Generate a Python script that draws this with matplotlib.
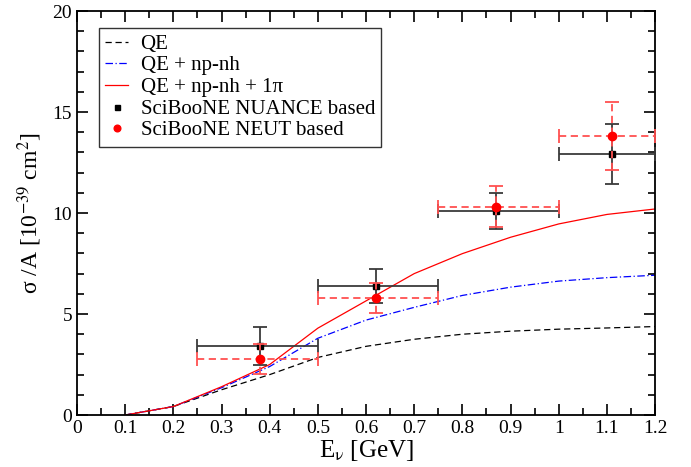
import numpy as np
import matplotlib.pyplot as plt
from matplotlib.ticker import MultipleLocator

plt.rcParams['font.family'] = ['Liberation Serif', 'DejaVu Serif']
plt.rcParams['mathtext.fontset'] = 'stix'

# theory curves
energy = [0.1, 0.2, 0.3, 0.4, 0.5, 0.6, 0.7, 0.8, 0.9, 1.0, 1.1, 1.2]
qe = [0.0, 0.42, 1.25, 2.0, 2.85, 3.4, 3.75, 4.0, 4.15, 4.25, 4.31, 4.38]
qe_npnh = [0.0, 0.42, 1.35, 2.4, 3.8, 4.7, 5.33, 5.92, 6.33, 6.63, 6.8, 6.92]
qe_npnh_pi = [0.0, 0.42, 1.4, 2.5, 4.3, 5.65, 7.0, 7.99, 8.8, 9.46, 9.93, 10.2]

# SciBooNE data
e_data = [0.38, 0.62, 0.87, 1.11]
e_lo = [0.25, 0.5, 0.75, 1.0]
e_hi = [0.5, 0.75, 1.0, 1.2]
nuance = [3.42, 6.39, 10.1, 12.92]
nuance_err = [0.95, 0.82, 0.9, 1.5]
neut = [2.77, 5.79, 10.32, 13.82]
neut_err = [0.75, 0.75, 1.0, 1.7]

fig, ax = plt.subplots(figsize=(6.91, 4.67), dpi=100)
fig.subplots_adjust(left=0.1114, right=0.948, bottom=0.1113, top=0.9764)

ax.plot(energy, qe, color='black', ls=(0, (5, 3)), lw=0.9, label='QE')
ax.plot(energy, qe_npnh, color='blue', ls=(0, (6, 2, 1, 2)), lw=0.9, label='QE + np-nh')
ax.plot(energy, qe_npnh_pi, color='red', ls='-', lw=0.9, label='QE + np-nh + 1π')

xerr_lo = np.array(e_data) - np.array(e_lo)
xerr_hi = np.array(e_hi) - np.array(e_data)

eb1 = ax.errorbar(e_data, nuance, xerr=[xerr_lo, xerr_hi], yerr=nuance_err,
                  fmt='s', color='black', ms=4.5, ecolor='#3a3a3a', elinewidth=1.3,
                  capsize=5, capthick=1.3, label='SciBooNE NUANCE based', zorder=5)
eb2 = ax.errorbar(e_data, neut, xerr=[xerr_lo, xerr_hi], yerr=neut_err,
                  fmt='o', color='red', ms=6, ecolor='#ff5050', elinewidth=1.3,
                  capsize=5, capthick=1.3, label='SciBooNE NEUT based', zorder=6)
for line in eb2[2]:
    line.set_linestyle((0, (4, 2.5)))

ax.set_xlim(0, 1.2)
ax.set_ylim(0, 20)
ax.xaxis.set_minor_locator(MultipleLocator(0.05))
ax.yaxis.set_major_locator(MultipleLocator(5))
ax.yaxis.set_minor_locator(MultipleLocator(1))
ax.set_xticks(np.arange(0, 1.21, 0.1))
ax.set_xticklabels(['0', '0.1', '0.2', '0.3', '0.4', '0.5', '0.6', '0.7', '0.8', '0.9', '1', '1.1', '1.2'])
ax.tick_params(which='both', direction='in', top=True, right=True, labelsize=14, width=1.2)
ax.tick_params(which='major', length=8)
ax.tick_params(which='minor', length=5)
for s in ax.spines.values():
    s.set_linewidth(1.3)

ax.set_xlabel(r'E$_{\mathrm{ν}}$ [GeV]', fontsize=18, labelpad=1)
ax.set_ylabel(r'σ /A [10$^{\mathrm{-39}}$ cm$^{2}$]', fontsize=17, labelpad=6)

handles, labels = ax.get_legend_handles_labels()
leg = ax.legend(handles=[handles[0], handles[1], handles[2], eb1[0], eb2[0]],
                labels=labels, loc='upper left', bbox_to_anchor=(0.038, 0.958),
                borderaxespad=0, fontsize=15, frameon=True, fancybox=False,
                edgecolor='black', handlelength=1.1, labelspacing=0.1,
                borderpad=0.3, handletextpad=0.6, markerscale=0.8)
leg.get_frame().set_linewidth(1.0)

fig.savefig('out.png', dpi=100)
